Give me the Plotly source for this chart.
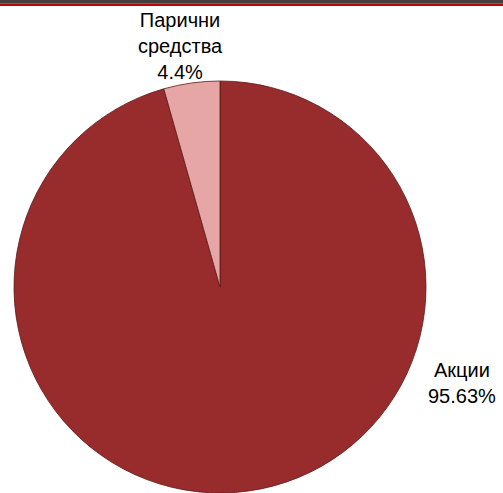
import plotly.graph_objects as go

labels = ["Акции", "Парични<br>средства"]
values = [95.63, 4.4]
value_text = ["95.63%", "4.4%"]
colors = ["#982B2B", "#E6A6A6"]

W, H = 503, 493
cx, cy, r = 220, 287, 206

fig = go.Figure(go.Pie(
    labels=labels,
    values=values,
    sort=False,
    direction="clockwise",
    rotation=0,
    textinfo="none",
    hoverinfo="label+value",
    marker=dict(colors=colors, line=dict(color="#5A1A1A", width=0.8)),
    domain=dict(x=[(cx - r) / W, (cx + r) / W], y=[(H - cy - r) / H, (H - cy + r) / H]),
    showlegend=False,
))

# labels
label_pos = [(462, 383), (180, 46)]
for lab, txt, (px, py) in zip(labels, value_text, label_pos):
    fig.add_annotation(
        x=px / W, y=1 - py / H, xref="paper", yref="paper",
        text=f"{lab}<br>{txt}", showarrow=False,
        font=dict(family="Liberation Sans, Arial", size=20, color="#000000"),
        align="center", xanchor="center", yanchor="middle",
    )

# top bar
fig.add_shape(type="rect", xref="paper", yref="paper", x0=0, x1=1, y0=1 - 3.5 / H, y1=1,
              fillcolor="#404040", line=dict(width=0), layer="above")
fig.add_shape(type="rect", xref="paper", yref="paper", x0=0, x1=1, y0=1 - 6 / H, y1=1 - 3.5 / H,
              fillcolor="#C00000", line=dict(width=0), layer="above")

fig.update_layout(
    width=W, height=H,
    margin=dict(l=0, r=0, t=0, b=0),
    paper_bgcolor="white", plot_bgcolor="white",
)

fig.write_html("out.html", config={"displayModeBar": False},
               post_script="document.body.style.margin='0';document.body.style.overflow='hidden';")
